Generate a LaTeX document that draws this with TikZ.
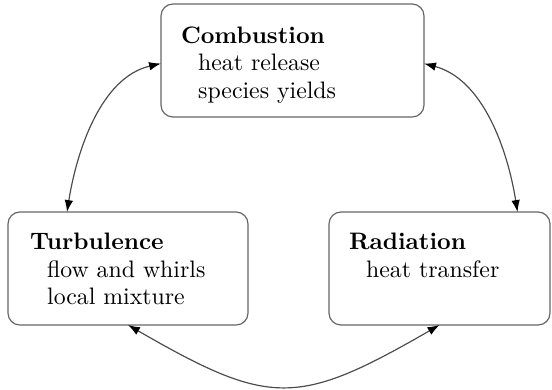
\documentclass[tikz,border=0pt]{standalone}
\usetikzlibrary{arrows.meta,calc}
\renewcommand{\arraystretch}{0.967}
\newcommand{\ind}{\hspace{7.2pt}}
\begin{document}
\begin{tikzpicture}[x=0.42pt,y=-0.42pt,
  box/.style={draw=black!60,line width=0.5pt,rounded corners=5pt,inner sep=0pt,outer sep=0pt,minimum height=47.46pt},
  txt/.style={inner sep=0pt,outer sep=0pt,anchor=base west,font=\fontsize{10}{12}\selectfont},
  link/.style={draw=black!70,line width=0.5pt,{Latex[length=5pt,width=3.6pt,color=black]}-{Latex[length=5pt,width=3.6pt,color=black]}}]
\useasboundingbox (0,0) rectangle (552,389);
\node[box,minimum width=110.46pt] (comb) at (292.5,60.5) {};
\node[box,minimum width=100.8pt] (turb) at (128,268.5) {};
\node[box,minimum width=92.82pt] (rad) at (439.5,268.5) {};
\node[txt] (combtext) at ($(comb.north west)+(20,39)$)
  {\begin{tabular}[t]{@{}l@{}}\textbf{Combustion}\\\ind heat release\\\ind species yields\end{tabular}};
\node[txt] (turbtext) at ($(turb.north west)+(22,37.5)$)
  {\begin{tabular}[t]{@{}l@{}}\textbf{Turbulence}\\\ind flow and whirls\\\ind local mixture\end{tabular}};
\node[txt] (radtext) at ($(rad.north west)+(20,37.5)$)
  {\begin{tabular}[t]{@{}l@{}}\textbf{Radiation}\\\ind heat transfer\end{tabular}};
\coordinate (cw) at ($(comb.west)+(0,3)$);
\coordinate (ce) at ($(comb.east)+(0,3)$);
\coordinate (tn) at ($(turb.north)+(-61,0)$);
\coordinate (rn) at ($(rad.north)+(78,0)$);
\draw[link] (cw) to[out=193,in=81,looseness=0.9] (tn);
\draw[link] (ce) to[out=-15,in=99,looseness=0.9] (rn);
\draw[link] (turb.south) to[out=-30,in=-150,looseness=1.35] (rad.south);
\end{tikzpicture}
\end{document}
